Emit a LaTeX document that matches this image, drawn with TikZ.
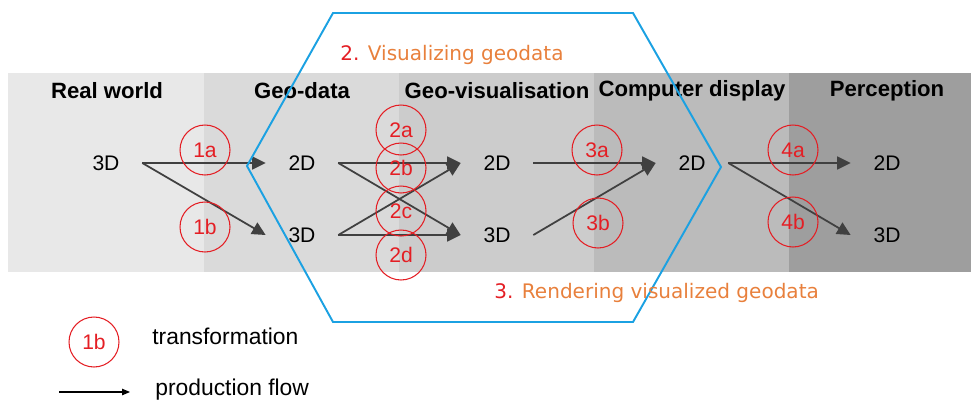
\documentclass[tikz,border=0pt]{standalone}
\usepackage{fontspec}
\setmainfont{Liberation Sans}
\newfontfamily\stepfont{DejaVu Sans}
\usepackage{xcolor}
\usetikzlibrary{positioning,calc,arrows.meta}
\definecolor{hexblue}{RGB}{27,161,226}
\definecolor{transred}{RGB}{228,30,36}
\definecolor{steporange}{RGB}{232,128,60}
\definecolor{flowgray}{RGB}{64,64,64}
\definecolor{bandA}{RGB}{232,232,232}
\definecolor{bandB}{RGB}{218,218,218}
\definecolor{bandC}{RGB}{204,204,204}
\definecolor{bandD}{RGB}{187,187,187}
\definecolor{bandE}{RGB}{158,158,158}

\begin{document}
\begin{tikzpicture}[x=0.02cm, y=-0.02cm,
    dimnode/.style={minimum width=1.44cm, inner sep=0pt, font=\fontsize{12}{14}\selectfont},
    stagetitle/.style={font=\bfseries\fontsize{12.6}{15}\selectfont},
    trans/.style={draw=transred, circle, line width=0.6pt, minimum size=1cm, inner sep=0pt, text=transred, font=\fontsize{12}{14}\selectfont},
    flow/.style={draw=flowgray, line width=1pt, -{Triangle[length=0.27cm, width=0.26cm]}},
    steplabel/.style={anchor=west, inner sep=0pt, text=steporange, font=\stepfont\fontsize{11.4}{14}\selectfont}]
    \useasboundingbox (0,0) rectangle (971,400);

    % stage bands
    \fill[bandA] (8,73) rectangle (204,272);
    \fill[bandB] (204,73) rectangle (399,272);
    \fill[bandC] (399,73) rectangle (594,272);
    \fill[bandD] (594,73) rectangle (789,272);
    \fill[bandE] (789,73) rectangle (971,272);

    \node [stagetitle] (realw) at (107,91) {Real world};
    \node [stagetitle] (geodata) at (302,91) {Geo-data};
    \node [stagetitle] (geovis) at (497,91) {Geo-visualisation};
    \node [stagetitle] (display) at (692,91) {Computer display};
    \node [stagetitle] (percept) at (887,91) {Perception};

    % dimensions per stage
    \node [dimnode] (rw3d) at (106,163) {3D};
    \node [dimnode] (gd2d) at (302,163) {2D};
    \node [dimnode] (gd3d) at (302,235) {3D};
    \node [dimnode] (gv2d) at (497,163) {2D};
    \node [dimnode] (gv3d) at (497,235) {3D};
    \node [dimnode] (cd2d) at (692,163) {2D};
    \node [dimnode] (pc2d) at (887,163) {2D};
    \node [dimnode] (pc3d) at (887,235) {3D};

    \draw [flow] (rw3d.east) -- (gd2d.west);
    \draw [flow] (rw3d.east) -- (gd3d.west);
    \draw [flow] (gd2d.east) -- (gv2d.west);
    \draw [flow] (gd2d.east) -- (gv3d.west);
    \draw [flow] (gd3d.east) -- (gv2d.west);
    \draw [flow] (gd3d.east) -- (gv3d.west);
    \draw [flow] (gv2d.east) -- (cd2d.west);
    \draw [flow] (gv3d.east) -- (cd2d.west);
    \draw [flow] (cd2d.east) -- (pc2d.west);
    \draw [flow] (cd2d.east) -- (pc3d.west);

    % visualisation hexagon
    \draw [hexblue, line width=1.1pt] (333,13) -- (633,13) -- (721,167) -- (633,322) -- (333,322) -- (247,166) -- cycle;
    \node [steplabel] (vislabel) at (340,55) {\textcolor{transred}{2.} Visualizing geodata};
    \node [steplabel] (rendlabel) at (494,293) {\textcolor{transred}{3.} Rendering visualized geodata};

    % transformations
    \node [trans] (t1a) at (205,150) {1a};
    \node [trans] (t1b) at (205,227) {1b};
    \node [trans] (t2a) at (401,130) {2a};
    \node [trans] (t2b) at (401,168) {2b};
    \node [trans] (t2c) at (401,211) {2c};
    \node [trans] (t2d) at (401,255) {2d};
    \node [trans] (t3a) at (597,150) {3a};
    \node [trans] (t3b) at (598,223) {3b};
    \node [trans] (t4a) at (793,150) {4a};
    \node [trans] (t4b) at (793,222) {4b};

    % legend
    \node [trans] (legtrans) at (94,342) {1b};
    \node [anchor=base west, inner sep=0pt, font=\fontsize{13}{15}\selectfont] (legtranstext) at (152,344) {transformation};
    \coordinate (legflowstart) at (59,392);
    \coordinate (legflowend) at (130,392);
    \draw [black, line width=0.6pt, -{Triangle[length=0.16cm, width=0.13cm]}] (legflowstart) -- (legflowend);
    \node [anchor=base west, inner sep=0pt, font=\fontsize{13}{15}\selectfont] (legflowtext) at (155,395) {production flow};
\end{tikzpicture}
\end{document}
